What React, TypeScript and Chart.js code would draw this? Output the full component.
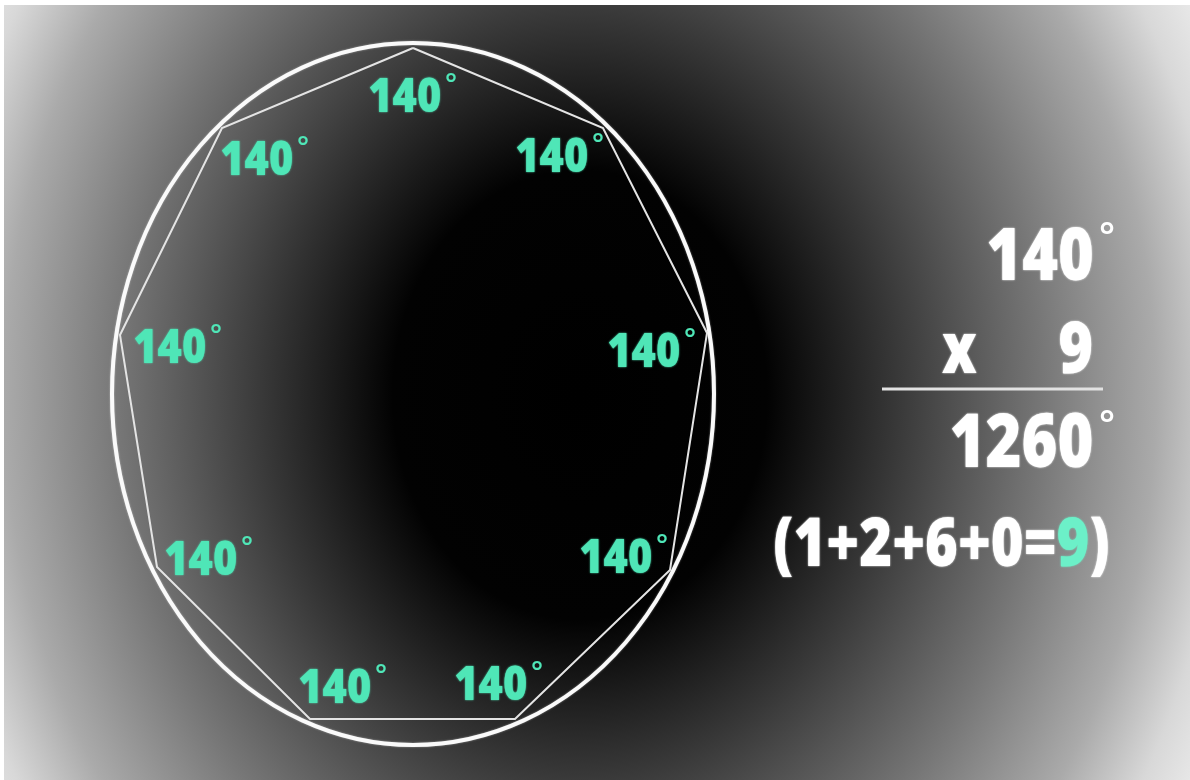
import { useEffect, useRef } from 'react';
import { Chart, registerables } from 'chart.js';

Chart.register(...registerables);

// ---- data ----
const interiorAngles = [140, 140, 140, 140, 140, 140, 140, 140, 140];
// nonagon vertices (top, then clockwise)
const vertexX = [413, 603, 707, 670, 515, 310, 157, 120, 222];
const vertexY = [48, 128, 333, 570, 719, 719, 567, 335, 128];
// angle label anchors (centre x of the number, baseline y)
const labelX = [405, 552, 644, 616, 491, 335, 201, 170, 257];
const labelY = [112, 172, 367, 573, 700, 703, 575, 363, 175];
// circumscribing ellipse: centre and radii
const ellipseCentre = [413, 394];
const ellipseRadii = [301, 351];
// the equation on the right
const productFactors = [140, 9];
const productResult = 1260;
const digitSumResult = 9;

const GREEN = '#4fe6b7';
const GREEN_LIGHT = '#6cf0c8';
const WHITE = '#ffffff';
const FONT = '"Open Sans", "Noto Sans", sans-serif';

type Seg = { text: string; color: string };

function drawFitted(
  ctx: CanvasRenderingContext2D,
  segs: Seg[],
  left: number,
  right: number,
  top: number,
  baseline: number,
) {
  ctx.save();
  ctx.font = `800 100px ${FONT}`;
  const ref = ctx.measureText('0');
  const size = ((baseline - top) / ref.actualBoundingBoxAscent) * 100;
  ctx.font = `800 ${size}px ${FONT}`;
  const full = segs.map((s) => s.text).join('');
  const m = ctx.measureText(full);
  const ink = m.actualBoundingBoxLeft + m.actualBoundingBoxRight;
  const sx = (right - left) / ink;
  ctx.translate(left + m.actualBoundingBoxLeft * sx, baseline);
  ctx.scale(sx, 1);
  ctx.textAlign = 'left';
  ctx.textBaseline = 'alphabetic';
  let x = 0;
  for (const s of segs) {
    ctx.fillStyle = s.color;
    ctx.shadowColor = s.color;
    ctx.shadowBlur = 2;
    ctx.fillText(s.text, x, 0);
    x += ctx.measureText(s.text).width;
  }
  ctx.restore();
}

function drawDegree(
  ctx: CanvasRenderingContext2D,
  left: number,
  top: number,
  diameter: number,
  color: string,
) {
  ctx.save();
  ctx.font = `600 100px ${FONT}`;
  const m = ctx.measureText('°');
  const h = m.actualBoundingBoxAscent + m.actualBoundingBoxDescent;
  const size = (diameter / h) * 100;
  ctx.font = `600 ${size}px ${FONT}`;
  const mm = ctx.measureText('°');
  ctx.textAlign = 'left';
  ctx.textBaseline = 'alphabetic';
  ctx.fillStyle = color;
  ctx.fillText('°', left + mm.actualBoundingBoxLeft, top + mm.actualBoundingBoxAscent);
  ctx.restore();
}

const backgroundPlugin = {
  id: 'vignette',
  beforeDraw(chart: any) {
    const ctx: CanvasRenderingContext2D = chart.ctx;
    const w = chart.width;
    const h = chart.height;
    ctx.save();
    ctx.fillStyle = '#ffffff';
    ctx.fillRect(0, 0, w, h);
    ctx.beginPath();
    ctx.rect(4, 5, w - 4, h - 5);
    ctx.clip();
    ctx.translate(580, 395);
    ctx.scale(1, 1.2);
    const g = ctx.createRadialGradient(0, 0, 0, 0, 0, 720);
    g.addColorStop(0, '#000000');
    g.addColorStop(0.26, '#020202');
    g.addColorStop(0.44, '#383838');
    g.addColorStop(0.64, '#767676');
    g.addColorStop(0.8, '#aaaaaa');
    g.addColorStop(0.9, '#d8d8d8');
    g.addColorStop(1, '#f2f2f2');
    ctx.fillStyle = g;
    ctx.fillRect(-700, -400, 1400, 800);
    ctx.restore();
  },
};

const ellipsePlugin = {
  id: 'ellipse',
  afterDatasetsDraw(chart: any) {
    const ctx: CanvasRenderingContext2D = chart.ctx;
    const xs = chart.scales.x;
    const ys = chart.scales.y;
    const cx = xs.getPixelForValue(ellipseCentre[0]);
    const cy = ys.getPixelForValue(ellipseCentre[1]);
    const rx = Math.abs(xs.getPixelForValue(ellipseCentre[0] + ellipseRadii[0]) - cx);
    const ry = Math.abs(ys.getPixelForValue(ellipseCentre[1] + ellipseRadii[1]) - cy);
    ctx.save();
    ctx.beginPath();
    ctx.ellipse(cx, cy, rx, ry, 0, 0, Math.PI * 2);
    ctx.strokeStyle = '#fafafa';
    ctx.lineWidth = 4;
    ctx.shadowColor = 'rgba(255,255,255,0.5)';
    ctx.shadowBlur = 2;
    ctx.stroke();
    ctx.restore();
  },
};

const textPlugin = {
  id: 'texts',
  afterDraw(chart: any) {
    const ctx: CanvasRenderingContext2D = chart.ctx;
    const xs = chart.scales.x;
    const ys = chart.scales.y;
    // angle labels
    interiorAngles.forEach((a, i) => {
      const cx = xs.getPixelForValue(labelX[i]);
      const base = ys.getPixelForValue(labelY[i]);
      const top = base - 35;
      drawFitted(ctx, [{ text: String(a), color: GREEN }], cx - 35, cx + 35, top, base);
      drawDegree(ctx, cx + 41, top - 5, 9, GREEN);
    });

    // equation
    drawFitted(ctx, [{ text: String(productFactors[0]), color: WHITE }], 988, 1092, 228, 280);
    drawDegree(ctx, 1100, 222, 12, WHITE);
    drawFitted(ctx, [{ text: 'x', color: WHITE }], 942, 977, 322, 373);
    drawFitted(ctx, [{ text: String(productFactors[1]), color: WHITE }], 1060, 1092, 322, 373);

    ctx.save();
    ctx.strokeStyle = '#e2e2e2';
    ctx.lineWidth = 3;
    ctx.beginPath();
    ctx.moveTo(882, 389);
    ctx.lineTo(1103, 389);
    ctx.stroke();
    ctx.restore();

    drawFitted(ctx, [{ text: String(productResult), color: WHITE }], 952, 1092, 413, 467);
    drawDegree(ctx, 1100, 410, 12, WHITE);

    const digits = String(productResult).split('').join('+');
    drawFitted(
      ctx,
      [
        { text: '(' + digits + '=', color: WHITE },
        { text: String(digitSumResult), color: GREEN_LIGHT },
        { text: ')', color: WHITE },
      ],
      775,
      1108,
      518,
      566,
    );
  },
};

export default function App() {
  const ref = useRef<HTMLCanvasElement>(null);
  useEffect(() => {
    document.body.style.margin = '0';
    const canvas = ref.current!;
    const polygon = vertexX.map((x, i) => ({ x, y: vertexY[i] }));
    polygon.push(polygon[0]);
    const chart = new Chart(canvas, {
      type: 'scatter',
      data: {
        datasets: [
          {
            type: 'line',
            data: polygon,
            borderColor: '#e4e4e4',
            borderWidth: 2,
            borderJoinStyle: 'miter',
            pointRadius: 0,
            tension: 0,
            fill: false,
          } as any,
        ],
      },
      options: {
        responsive: false,
        maintainAspectRatio: false,
        animation: false,
        events: [],
        layout: { padding: 0 },
        scales: {
          x: { type: 'linear', min: 0, max: 1190, display: false },
          y: { type: 'linear', min: 0, max: 780, reverse: true, display: false },
        },
        plugins: { legend: { display: false }, tooltip: { enabled: false } },
      },
      plugins: [backgroundPlugin, ellipsePlugin, textPlugin],
    });
    return () => chart.destroy();
  }, []);
  return (
    <div style={{ width: 1190, height: 780 }}>
      <canvas ref={ref} width={1190} height={780} style={{ display: 'block' }} />
    </div>
  );
}
